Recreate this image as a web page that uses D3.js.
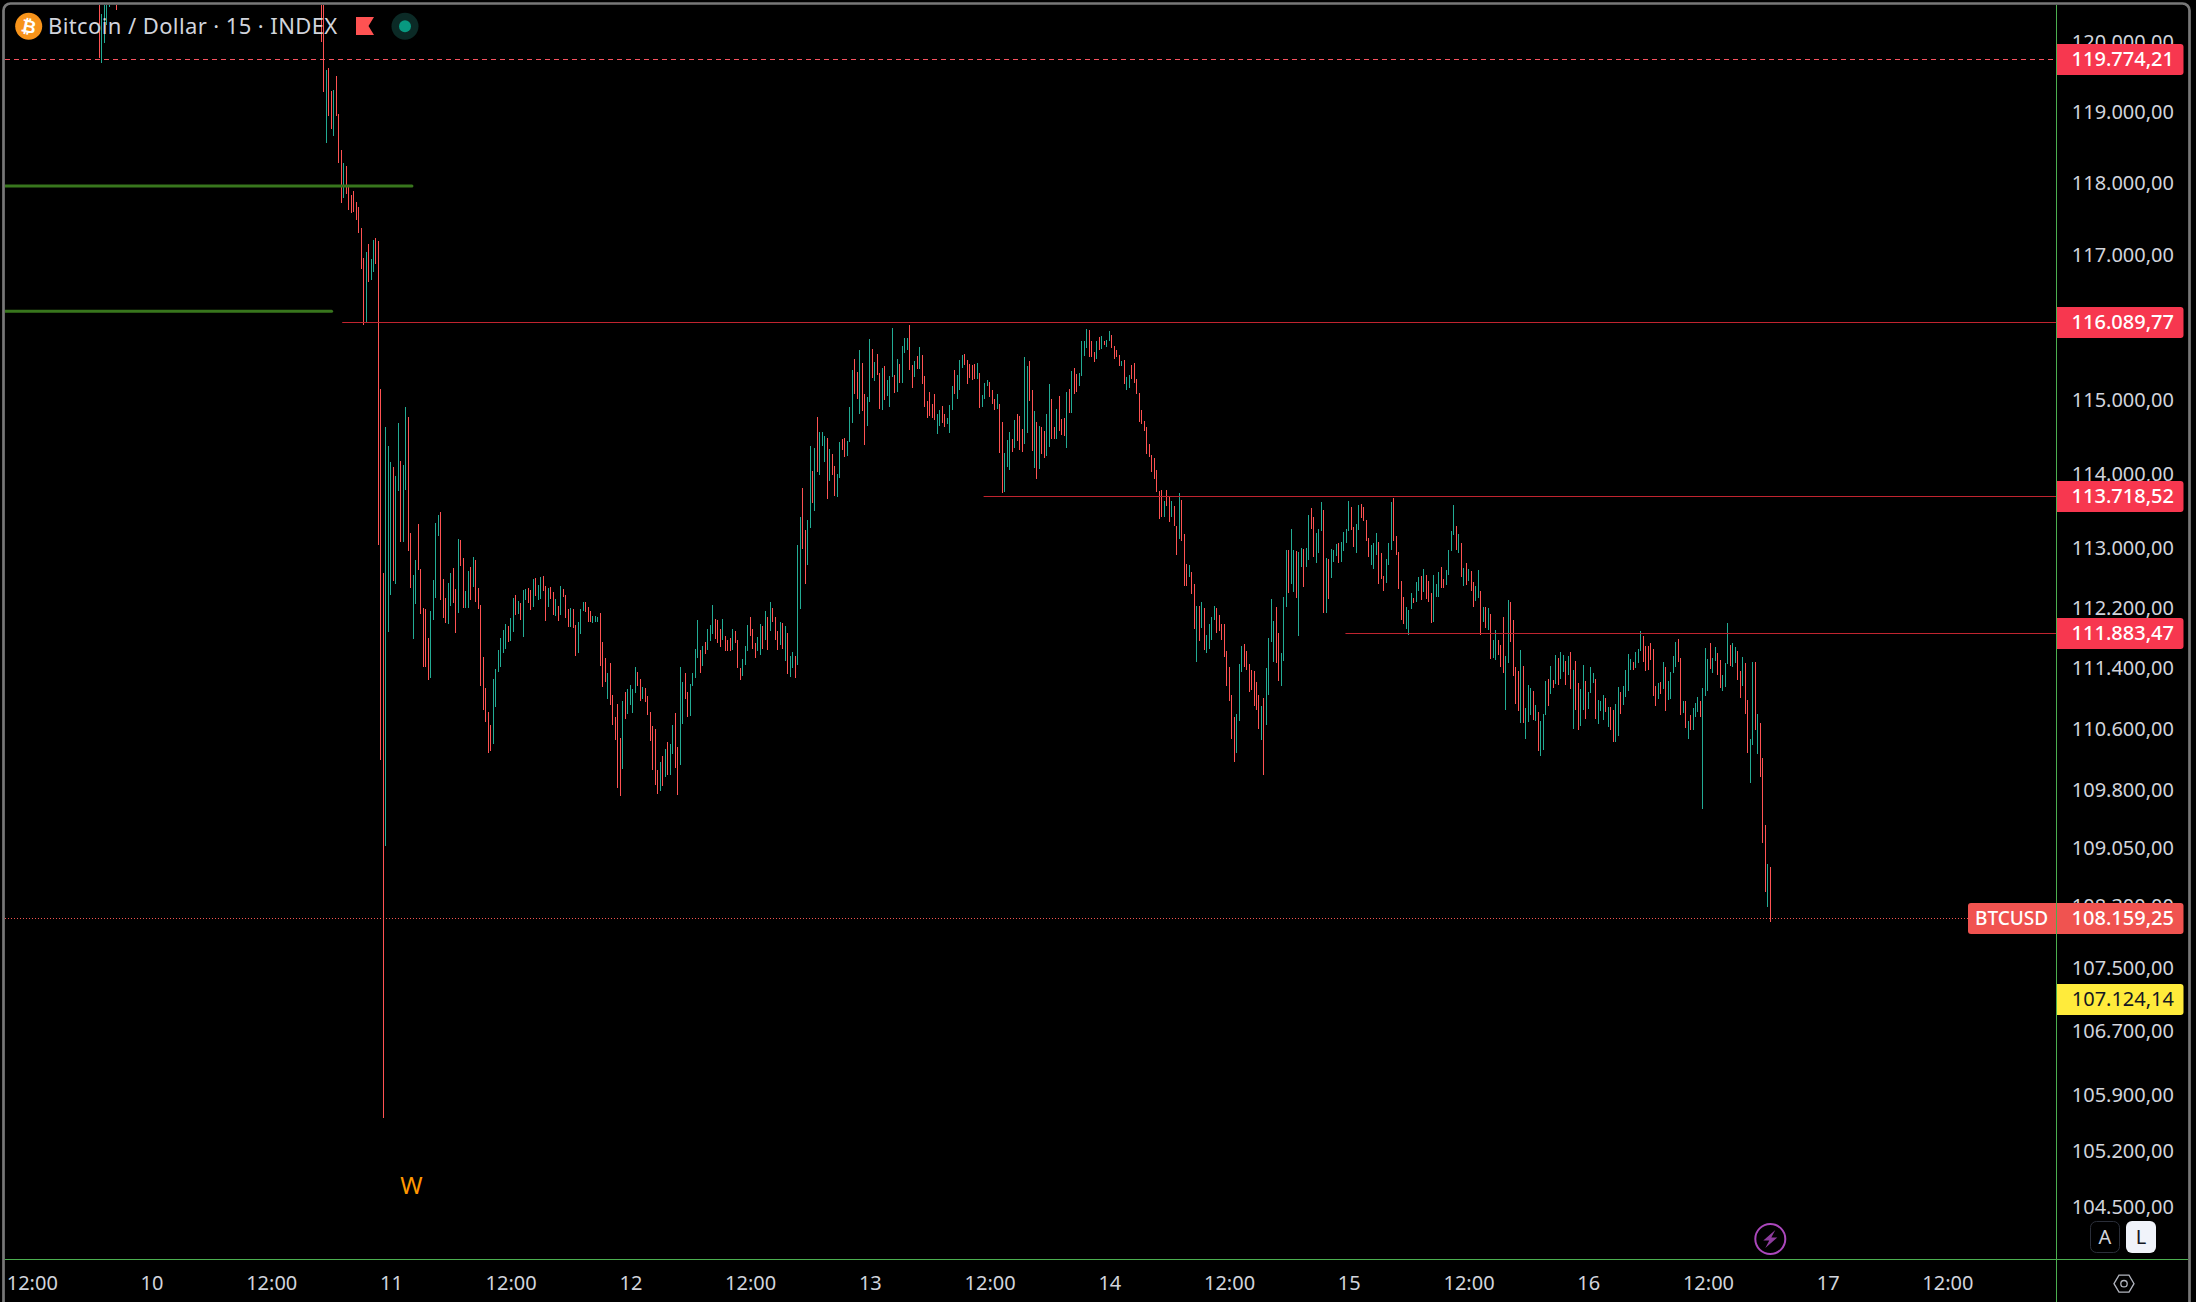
<!DOCTYPE html>
<html>
<head>
<meta charset="utf-8">
<script src="https://cdn.jsdelivr.net/npm/d3@7"></script>
<style>
html,body{margin:0;padding:0;background:#000;overflow:hidden}
svg{display:block}
text{font-family:"Noto Sans",sans-serif}
</style>
</head>
<body>
<svg id="c" width="2196" height="1302"></svg>
<script>
// ---------- data ----------
const title = "Bitcoin / Dollar · 15 · INDEX";
const priceTicks = [120000,119000,118000,117000,116000,115000,114000,113000,112200,111400,110600,109800,109050,108300,107500,106700,105900,105200,104500];
const timeTicks = ["2025-07-09T12:00Z","2025-07-10T00:00Z","2025-07-10T12:00Z","2025-07-11T00:00Z","2025-07-11T12:00Z","2025-07-12T00:00Z","2025-07-12T12:00Z","2025-07-13T00:00Z","2025-07-13T12:00Z","2025-07-14T00:00Z","2025-07-14T12:00Z","2025-07-15T00:00Z","2025-07-15T12:00Z","2025-07-16T00:00Z","2025-07-16T12:00Z","2025-07-17T00:00Z","2025-07-17T12:00Z"];
const resistanceLevels = [116089.77,113718.52,111883.47];
const resistanceStarts = ["2025-07-10T19:07Z","2025-07-13T11:24Z","2025-07-14T23:40Z"];
const dashedLevel = 119774.21;
const lastPrice = 108159.25;
const yellowLevel = 107124.14;
const greenLevels = [117983,116242];
const greenEnds = ["2025-07-11T02:06Z","2025-07-10T18:03Z"];
const barMinutes = 15;
const earlyStart = "2025-07-09T18:45Z";
const earlyHigh = [120700,120416,120700,120700,120700,null,null,120700];
const earlyLow  = [119790,119718,120000,120260,120510,null,null,120480];
const earlyDir  = "d u u u u d d d".split(" ");
const mainStart = "2025-07-10T17:00Z";
const barHigh = [
120700,120700,119616,119644,119320,119334,119531,118996,118489,118307,118264,117969,117857,117913,117759,117690,117397,116979,117062,117173,116965,117229,117257,117215,
115174,112686,114657,114397,114181,114113,113992,114711,114194,114140,114929,114793,113223,112660,112860,113343,112740,112220,112206,111820,112180,112593,113357,113465,
113505,112606,112353,112553,112686,112753,112473,113142,113129,112887,
112446,112713,112767,112900,112860,112487,112260,111568,111158,110843,
110672,111277,111410,111661,111820,111927,112007,111980,112087,112353,
112393,112313,112286,112460,112473,112487,112460,112606,112620,112527,
112633,112647,112513,112487,112500,112433,112340,112246,112513,112473,
112393,112206,112220,112206,111993,112033,112206,112300,112300,112233,
112180,112113,112113,112100,112153,111767,111555,111357,111489,111066,
110777,110948,110500,110987,111106,111145,111198,111145,111436,111370,
111277,111171,111158,111053,110843,110658,110619,110082,110186,110264,
110356,110448,110422,110672,110830,110382,111436,111238,111357,111106,
111211,111357,111674,112060,111661,111714,111767,111940,111993,112260,
112073,112060,111940,112073,111847,111794,111820,111940,111913,111794,
111423,111542,111714,111993,112100,111940,111754,111834,112007,111980,
112180,112100,112300,112220,112100,111913,112033,112020,111980,111887,
111582,111635,111582,113062,113438,113830,113263,113397,114397,114060,
114370,114793,114588,114588,114534,114506,114357,114289,114127,114019,
114452,114493,114506,114466,114929,115434,115585,115407,115709,115530,
115105,115065,115860,115723,115544,115654,115393,115461,115489,115297,
115352,116012,115366,115585,115516,115764,115874,115874,116053,115502,
115557,115626,115750,115640,115352,115010,115133,114970,115105,114834,
114888,114942,114834,114779,114956,115215,115434,115366,115571,115640,
115654,115571,115516,115502,115516,115530,115393,115092,115256,115297,
115270,115160,115038,115105,114970,114725,114302,114479,114588,114493,
114752,114834,114806,114629,115612,115489,115557,115160,114874,114725,
114670,114657,114602,114834,115243,115038,114657,114901,115078,114765,
114779,115133,115174,115420,115461,115379,115393,115832,115832,115998,
115984,115832,115681,115832,115888,115901,115832,115846,115970,115915,
115764,115709,115640,115557,115571,115338,115366,115502,115530,115311,
115119,114888,114738,114657,114425,114275,114235,114073,113789,113802,
113654,113802,113708,113654,113586,113316,113762,113667,
113210,112807,112794,112700,112540,112246,112246,112300,112220,111860,
112007,112100,112246,112220,112127,112007,112007,111648,111436,111066,
110777,110817,111476,111714,111741,111648,111476,111397,111384,111238,
111066,110922,111026,111423,111820,112340,112047,112233,111887,111621,
112367,112994,112994,113276,112994,112980,112967,113021,113008,113021,
113465,113559,113438,113223,113276,113640,113532,112887,112873,113008,
112994,113075,113088,113102,113236,113276,113654,113573,113303,113343,
113600,113613,113573,113397,113156,113062,113088,113223,113102,112954,
112647,112873,113088,113640,113694,113183,112967,112580,112367,112233,
112193,112420,112353,112566,112633,112647,112740,112660,112580,112420,
112660,112540,112700,112767,112606,112727,112994,113250,113600,113316,
113210,113088,112753,112820,112740,112713,112566,112513,112727,112446,
112233,112233,112220,112140,111794,111927,111794,111727,112100,111582,
112326,112300,112060,111436,111384,111661,111450,110895,111198,111158,
111119,110935,110843,110724,110817,111251,111277,111450,111264,111595,
111555,111635,111595,111516,111582,111635,111397,111516,111224,111145,
111463,111251,111106,111436,111357,111277,111000,110987,111066,111026,
110908,110908,110869,110948,111171,111106,111185,111397,111608,111542,
111502,111635,111674,111913,111847,111714,111714,111754,111674,111185,
111224,111238,111502,111436,111251,111370,111582,111767,111807,111555,
110987,110987,110724,110803,110895,110961,111040,110987,111158,111687,
111542,111754,111555,111701,111621,111529,111330,111489,112020,111727,
111754,111701,111648,111384,111568,111489,111000,110487,111502,111502,
110817,110698,110238,109365,108860,108822];
const barLow = [
120014,119306,118588,118968,118785,118686,118968,118307,117745,117815,117871,117648,117606,117620,117508,117327,116826,116053,116094,116646,116674,116784,116895,113062,
110212,105630,109093,111900,112393,112580,112540,113790,113102,113102,113802,112980,112487,111807,112273,112727,112140,111436,111436,111264,111290,112060,112353,113183,
112326,112087,112020,112007,112246,112286,111887,112153,112780,112220,
112220,112220,112326,112500,112300,112206,111185,110869,110711,110304,
110330,110422,110908,111370,111436,111621,111674,111767,111780,111900,
112127,112140,112060,111834,112326,112286,112193,112233,112380,112326,
112340,112446,112047,112233,112340,112127,112113,112047,112127,112367,
112087,111967,111967,111953,111582,111621,111873,112180,112166,112033,
112033,112020,112033,112033,111450,111171,111238,111013,110935,110672,
110474,109847,109742,110095,110750,110817,110935,110830,111092,111185,
110987,111013,110974,110803,110461,110082,109886,109768,109808,109873,
109990,110017,110017,110290,110108,109755,110147,110685,111013,110777,
110790,111185,111291,111555,111357,111450,111608,111661,111780,111873,
111807,111754,111701,111794,111648,111648,111648,111661,111754,111423,
111264,111317,111463,111648,111847,111674,111555,111648,111595,111674,
111794,111661,111913,112033,111794,111661,111727,111674,111516,111344,
111304,111423,111291,111463,112206,113008,112540,112794,113290,113627,
113519,114046,114005,114397,114181,113680,113924,114005,113721,113708,
113965,114343,114248,114262,114452,114711,115105,115038,114834,114874,
114411,114670,114997,115325,115283,115366,114901,114888,115024,115078,
114929,115338,115119,115133,115256,115256,115667,115709,115434,115188,
115338,115448,115448,115243,114929,114779,114806,114779,114752,114561,
114670,114711,114657,114697,114575,114888,115105,115038,115160,115461,
115502,115243,115325,115297,115311,115311,114915,114929,115038,115215,
115065,114970,114888,114901,114302,113762,113776,114113,114073,114316,
114370,114466,114343,114316,114425,114575,115010,114330,114100,113951,
114086,114289,114235,114262,114384,114493,114493,114493,114602,114547,
114534,114370,114847,114847,115105,115133,115215,115352,115626,115736,
115612,115612,115544,115585,115709,115723,115778,115750,115832,115736,
115585,115612,115489,115489,115243,115160,115188,115311,115256,115105,
114725,114697,114602,114289,114248,114046,113951,113775,113411,113438,
113438,113586,113370,113438,113316,112927,113142,113115,
112513,112513,112633,112407,111940,111502,111780,111953,111661,111621,
111674,111794,112060,111887,111913,111794,111568,111185,110987,110487,
110186,110304,110724,111370,111436,111397,111106,111132,110922,110869,
110619,110474,110017,110672,111066,111767,111502,111489,111251,111185,
111516,112233,112420,112540,112433,112353,111847,112767,112500,112767,
112860,113276,112900,112820,112954,113250,112153,112153,112340,112620,
112834,112914,112820,112834,112980,113088,113250,113263,113035,112954,
113263,113424,113384,113115,112900,112794,112740,112927,112540,112606,
112446,112553,112794,112994,113115,112927,112473,112060,112007,111940,
111860,112206,112286,112300,112446,112326,112433,112340,112300,112020,
112033,112367,112367,112487,112487,112527,112660,112980,113196,112994,
112954,112633,112513,112527,112580,112446,112233,112313,112353,111860,
112033,111953,111927,111542,111555,111529,111595,111436,111357,110869,
111489,111767,111317,110948,110856,110698,110698,110487,110711,110803,
110737,110724,110330,110264,110343,110803,110922,111079,111158,111211,
111198,111277,111370,111198,111330,111145,110619,110869,110606,110658,
110869,110750,110882,111092,111224,110750,110685,110856,110737,110843,
110645,110606,110448,110448,110527,110817,110935,111040,111119,111397,
111397,111423,111489,111648,111502,111384,111397,111529,111053,110922,
111013,111079,111145,110856,111000,111013,111357,111436,111502,110803,
110830,110632,110487,110606,110606,110777,110843,110777,109573,111053,
111119,111410,111357,111516,111330,111158,111119,111171,111476,111450,
111436,111489,111264,111026,111185,110817,110304,109912,110409,110606,
110290,109990,109132,108499,108306,108115];
const barDir = (
"d d u d d u d d d u d d d d d d d d u d u u d d "+
"d d u u u d u u d u u d d u u d d d d d u u u u "+
"d d d u u d d u d d u u d u d d d d d d "+
"d u u u u u u d u u d u d u u d d u d u "+
"u d d u d d u d u d d d u d d u u u d d "+
"d u u u d d d u d d d d d u d u u u u d "+
"d u d d d d d d u d u d u u d d u u d d "+
"u u u u d u d u u u d d d u d d d u d d "+
"d u u u d d d u u d u d u d d d u d u d "+
"u u d u u d d u u d u d u u u d u d d u "+
"u d d u u u d d u d d u u d u d d u d u "+
"u u d u d u u u d d u d u d d d d d d u "+
"u d d u u u d u u u d d d d d u d u u u "+
"d d d u d d u u u d u d d d u u d d u d "+
"u d d u u d d u d d d u d u d d u u u u "+
"d d d u d u d u u d d d d u d u u d d d "+
"d d d d d d d d d d u d d u d d u d "+
"d d u d d u d u d u u u u d d d d d d d "+
"d u u u d d d d d d d u d u u u u d d u "+
"u u d u u d u u d u u d d u u u d u d u "+
"u u d u u u u d d u u d d d d u u u d d "+
"d u u u d d d d d u u u d u u d u d d d "+
"u u u d d u u u u d u d u d u d d u u d "+
"u d u d u u d d d u u d d d d u d u u u "+
"d u d u u u d u d u d u u d u d u d d u "+
"u d u u u d u u u d u d d u u d u u u u "+
"d u u u d d d d d d "+
"u d u d u u u u d d u d u d u u u d u u "+
"u d u u d d u u u d u u d d u d d u u d "+
"u d d d u d"
).trim().split(" ");

// ---------- layout ----------
const W = 2196, H = 1302;
const paneLeft = 5, paneRight = 2056, paneTop = 5, paneBottom = 1259;
const axisX = 2056.5, axisY = 1259.5;
const FONT_TICK = 20;

const svg = d3.select("#c");
svg.append("rect").attr("width",W).attr("height",H).attr("fill","#000");

const y = d3.scaleLog().domain([103876,120545]).range([paneBottom,paneTop]);
const x = d3.scaleUtc()
  .domain([new Date("2025-07-10T00:00Z"),new Date("2025-07-17T00:00Z")])
  .range([151.5,1827.7]);

const ptBR = d3.formatLocale({decimal:",",thousands:".",grouping:[3],currency:["",""]});
const fmt = ptBR.format(",.2f");
const crisp = v => Math.floor(v)+0.5;

svg.append("defs").append("clipPath").attr("id","pane").append("rect")
  .attr("x",paneLeft).attr("y",paneTop).attr("width",paneRight-paneLeft).attr("height",paneBottom-paneTop);
const plot = svg.append("g").attr("clip-path","url(#pane)");

// ---------- bars ----------
const UP = "#22AB94", DOWN = "#FF5252";
function makeBars(start,hi,lo,dir){
  const t0 = +new Date(start);
  return hi.map((h,i)=>({t:new Date(t0+i*barMinutes*60000),h,l:lo[i],d:dir[i]})).filter(b=>b.h!=null);
}
const bars = makeBars(earlyStart,earlyHigh,earlyLow,earlyDir).concat(makeBars(mainStart,barHigh,barLow,barDir));
plot.append("g").selectAll("rect").data(bars).join("rect")
  .attr("x",b=>Math.floor(x(b.t)))
  .attr("width",1)
  .attr("y",b=>y(b.h))
  .attr("height",b=>y(b.l)-y(b.h))
  .attr("fill",b=>b.d==="u"?UP:DOWN)
  .attr("shape-rendering","crispEdges");

// ---------- level lines ----------
const levels = plot.append("g");
levels.selectAll("line.res").data(resistanceLevels).join("line").attr("class","res")
  .attr("x1",(d,i)=>x(new Date(resistanceStarts[i]))).attr("x2",paneRight)
  .attr("y1",d=>crisp(y(d))).attr("y2",d=>crisp(y(d)))
  .attr("stroke","#C0242F").attr("stroke-width",1);
levels.selectAll("line.grn").data(greenLevels).join("line").attr("class","grn")
  .attr("x1",paneLeft).attr("x2",(d,i)=>x(new Date(greenEnds[i])))
  .attr("y1",d=>y(d)).attr("y2",d=>y(d))
  .attr("stroke","#38761D").attr("stroke-width",3).attr("stroke-linecap","round");
levels.append("line").attr("x1",paneLeft).attr("x2",paneRight)
  .attr("y1",crisp(y(dashedLevel))).attr("y2",crisp(y(dashedLevel)))
  .attr("stroke","#F7525F").attr("stroke-width",1).attr("stroke-dasharray","5 4");
levels.append("line").attr("x1",paneLeft).attr("x2",1968)
  .attr("y1",crisp(y(lastPrice))).attr("y2",crisp(y(lastPrice)))
  .attr("stroke","#F05350").attr("stroke-width",1).attr("stroke-dasharray","1 2");

// ---------- "W" ----------
svg.append("text").attr("x",411.5).attr("y",1185.5).attr("dy","0.36em")
  .attr("text-anchor","middle").attr("font-size",24).attr("fill","#FF9800").text("W");

// ---------- price axis ----------
const yAxis = d3.axisRight(y).tickValues(priceTicks).tickSize(0).tickPadding(0).tickFormat(d=>fmt(d));
const gy = svg.append("g").attr("transform","translate(2174,-1.5)").call(yAxis);
gy.select(".domain").remove();
gy.selectAll("text").attr("x",0).attr("text-anchor","end").attr("font-size",FONT_TICK)
  .attr("font-family",'"Noto Sans",sans-serif').attr("fill","#D1D4DC");

// ---------- time axis ----------
const timeDates = timeTicks.map(s=>new Date(s));
const xAxis = d3.axisBottom(x).tickValues(timeDates).tickSize(0).tickPadding(0)
  .tickFormat(d=>d.getUTCHours()===12?"12:00":String(d.getUTCDate()));
const gx = svg.append("g").attr("transform","translate(0,1276)").call(xAxis);
gx.select(".domain").remove();
gx.selectAll("text").attr("y",0).attr("dy","0.71em").attr("font-size",FONT_TICK)
  .attr("font-family",'"Noto Sans",sans-serif').attr("fill","#D1D4DC");

// ---------- price badges ----------
function badge(level,fill,textFill,weight){
  const cy = y(level), top = Math.round(cy-15.5);
  const g = svg.append("g");
  g.append("path").attr("d",`M2057,${top}h123.5a3,3 0 0 1 3,3v25a3,3 0 0 1 -3,3h-123.5z`).attr("fill",fill);
  g.append("text").attr("x",2174).attr("y",top+14.5).attr("dy","0.36em").attr("text-anchor","end")
    .attr("font-size",FONT_TICK).attr("font-weight",weight).attr("fill",textFill).text(fmt(level));
}
[dashedLevel,...resistanceLevels].forEach(l=>badge(l,"#F7374F","#fff",500));
// last price: two-part label
const lastTop = Math.round(y(lastPrice)-15.5);
svg.append("path").attr("d",`M1971,${lastTop}H2180.5a3,3 0 0 1 3,3v25a3,3 0 0 1 -3,3H1971a3,3 0 0 1 -3,-3v-25a3,3 0 0 1 3,-3z`).attr("fill","#F05350");
svg.append("text").attr("x",1975).attr("y",lastTop+15.5).attr("dy","0.36em").attr("font-size",19).attr("font-weight",500).attr("fill","#fff").text("BTCUSD");
svg.append("text").attr("x",2174).attr("y",lastTop+14.5).attr("dy","0.36em").attr("text-anchor","end").attr("font-size",FONT_TICK).attr("font-weight",500).attr("fill","#fff").text(fmt(lastPrice));
badge(yellowLevel,"#FFEB3B","#131722",400);

// ---------- axis rules ----------
svg.append("line").attr("x1",axisX).attr("x2",axisX).attr("y1",paneTop).attr("y2",H).attr("stroke","#4CAF50").attr("stroke-width",1);
svg.append("line").attr("x1",paneLeft).attr("x2",2188).attr("y1",axisY).attr("y2",axisY).attr("stroke","#4CAF50").attr("stroke-width",1);

// ---------- legend ----------
svg.append("circle").attr("cx",28.7).attr("cy",26.3).attr("r",13.5).attr("fill","#F7931A");
svg.append("text").attr("x",28.7).attr("y",26.3).attr("dy","0.36em").attr("text-anchor","middle")
  .attr("font-size",18).attr("font-weight",700).attr("fill","#fff")
  .attr("transform","rotate(12 28.7 26.3)").style("font-family",'"DejaVu Sans",sans-serif').text("₿");
svg.append("text").attr("x",48).attr("y",26.3).attr("dy","0.36em").attr("font-size",22).attr("letter-spacing",0.4).attr("fill","#D1D4DC").text(title);
svg.append("path").attr("d","M356,17H374L368.5,26L374,35H356Z").attr("fill","#FF5252");
svg.append("circle").attr("cx",405).attr("cy",26.3).attr("r",13.5).attr("fill","#0B2A26");
svg.append("circle").attr("cx",405).attr("cy",26.3).attr("r",6).attr("fill","#089981");

// ---------- bottom-right controls ----------
svg.append("rect").attr("x",2090.5).attr("y",1221.5).attr("width",29).attr("height",31).attr("rx",6).attr("fill","#000").attr("stroke","#2A2E39");
svg.append("text").attr("x",2105).attr("y",1237).attr("dy","0.36em").attr("text-anchor","middle").attr("font-size",20).attr("fill","#D1D4DC").text("A");
svg.append("rect").attr("x",2126).attr("y",1221).attr("width",30).attr("height",32).attr("rx",6).attr("fill","#F0F3FA");
svg.append("text").attr("x",2141).attr("y",1237).attr("dy","0.36em").attr("text-anchor","middle").attr("font-size",20).attr("fill","#131722").text("L");
const hx = 2124, hy = 1283.7;
svg.append("path").attr("d",`M${hx-10},${hy}L${hx-5},${hy-8.5}H${hx+5}L${hx+10},${hy}L${hx+5},${hy+8.5}H${hx-5}Z`).attr("fill","none").attr("stroke","#B2B5BE").attr("stroke-width",1.3);
svg.append("circle").attr("cx",hx).attr("cy",hy).attr("r",3.2).attr("fill","none").attr("stroke","#B2B5BE").attr("stroke-width",1.3);

// ---------- lightning marker ----------
const bx = 1770.3, by = 1239;
svg.append("circle").attr("cx",bx).attr("cy",by).attr("r",15).attr("fill","#000").attr("stroke","#AB47BC").attr("stroke-width",2);
svg.append("path").attr("d",`M${bx+5},${by-9}L${bx-7},${by+1.5}H${bx-1}L${bx-5},${by+9}L${bx+7},${by-1.5}H${bx+1}Z`).attr("fill","#8E3C9E");

// ---------- frame ----------
svg.append("rect").attr("x",3.5).attr("y",3.5).attr("width",2186).attr("height",1400).attr("rx",7)
  .attr("fill","none").attr("stroke","#787878").attr("stroke-width",2.7);
</script>
</body>
</html>
